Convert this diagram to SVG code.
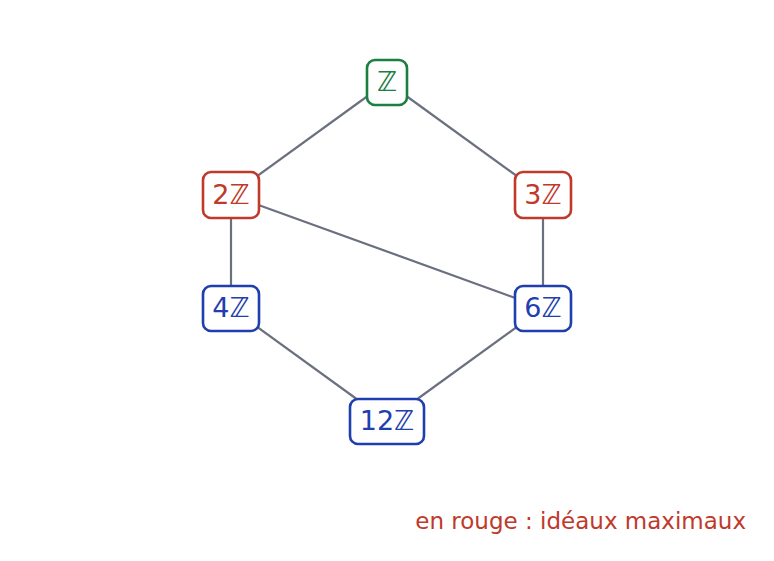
<svg xmlns="http://www.w3.org/2000/svg" width="774" height="561" viewBox="0 0 774 561">
<style>
.edge{stroke:#6b7080;stroke-width:2.2;fill:none}
.box{fill:#fff;stroke-width:2.6}
.lbl{font-family:"DejaVu Sans",sans-serif;font-size:27px;text-anchor:middle}
.g .box{stroke:#1a8040}.g text{fill:#1a8040}
.r .box{stroke:#c0392b}.r text{fill:#c0392b}
.b .box{stroke:#1f3fae}.b text{fill:#1f3fae}
</style>
<rect width="774" height="561" fill="#fff"/>
<g id="connectors">
<line class="edge" x1="387" y1="82" x2="231" y2="195"/>
<line class="edge" x1="387" y1="82" x2="543" y2="195"/>
<line class="edge" x1="231" y1="195" x2="231" y2="308"/>
<line class="edge" x1="231" y1="195" x2="543" y2="308"/>
<line class="edge" x1="543" y1="195" x2="543" y2="308"/>
<line class="edge" x1="231" y1="308" x2="387" y2="421"/>
<line class="edge" x1="543" y1="308" x2="387" y2="421"/>
</g>
<g id="Z" class="g"><rect class="box" x="367" y="60" width="40" height="45" rx="8"/><text class="lbl" x="387" y="91">ℤ</text></g>
<g id="2Z" class="r"><rect class="box" x="203" y="172" width="56" height="46" rx="8"/><text class="lbl" x="231" y="204">2ℤ</text></g>
<g id="3Z" class="r"><rect class="box" x="515" y="172" width="56" height="46" rx="8"/><text class="lbl" x="543" y="204">3ℤ</text></g>
<g id="4Z" class="b"><rect class="box" x="203" y="286" width="56" height="45" rx="8"/><text class="lbl" x="231" y="317">4ℤ</text></g>
<g id="6Z" class="b"><rect class="box" x="515" y="286" width="56" height="45" rx="8"/><text class="lbl" x="543" y="317">6ℤ</text></g>
<g id="12Z" class="b"><rect class="box" x="350" y="399" width="74" height="45" rx="8"/><text class="lbl" x="387" y="430">12ℤ</text></g>
<text x="746" y="529" font-family="DejaVu Sans,sans-serif" font-size="23" fill="#c0392b" text-anchor="end">en rouge : idéaux maximaux</text>
</svg>
